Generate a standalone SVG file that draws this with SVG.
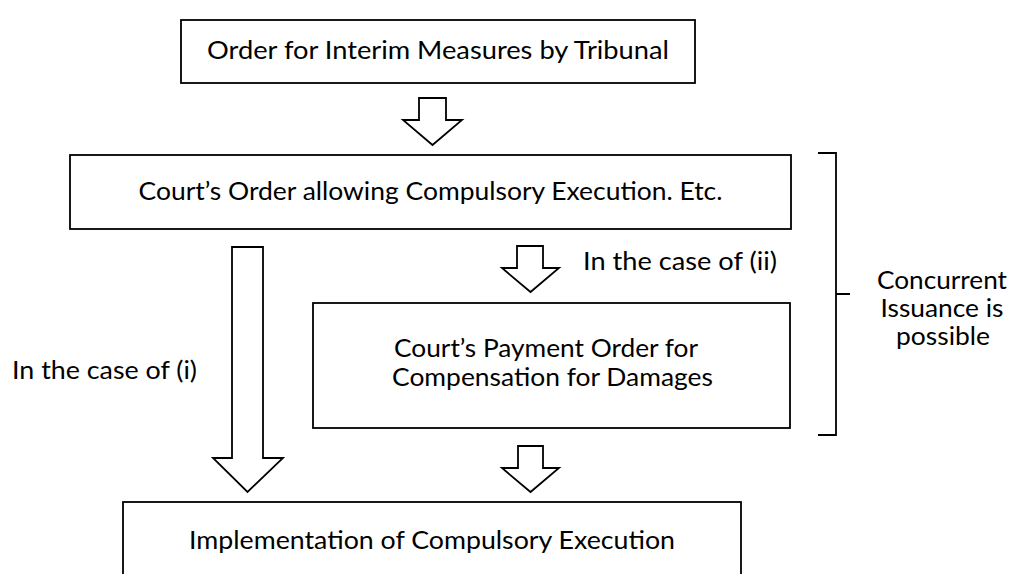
<svg xmlns="http://www.w3.org/2000/svg" width="1013" height="574" viewBox="0 0 1013 574">
<style>
.box{fill:#fff;stroke:#000;stroke-width:1.8}
.arr{fill:#fff;stroke:#000;stroke-width:1.8;stroke-linejoin:miter}
.t{font-family:Lato,"Open Sans","Liberation Sans",sans-serif;font-size:24.5px;fill:#000}
.c{text-anchor:middle}
.br{fill:none;stroke:#000;stroke-width:1.8}
</style>
<rect width="1013" height="574" fill="#fff"/>
<g id="connectors">
<path class="arr" d="M419 98 H446 V120 H462 L432.5 145 L403 120 H419 Z"/>
<path class="arr" d="M232 247 H263 V458 H283 L247.5 492 L213 458 H232 Z"/>
<path class="arr" d="M517 246 H543 V268 H559 L530.5 292 L502 268 H517 Z"/>
<path class="arr" d="M518 446 H543 V468 H559 L530.5 492 L502 468 H518 Z"/>
<path class="br" d="M818 153 H836 V435 H818 M836 294 H850"/>
</g>
<g id="node-tribunal">
<rect class="box" x="181" y="20" width="514" height="63"/>
<text class="t c" x="438" y="59" textLength="462" lengthAdjust="spacingAndGlyphs">Order for Interim Measures by Tribunal</text>
</g>
<g id="node-court-order">
<rect class="box" x="70" y="155" width="721" height="74"/>
<text class="t c" x="430.5" y="200" textLength="584" lengthAdjust="spacingAndGlyphs">Court’s Order allowing Compulsory Execution. Etc.</text>
</g>
<g id="node-payment">
<rect class="box" x="313" y="303" width="477" height="125"/>
<text class="t c" x="546" y="357" textLength="304" lengthAdjust="spacingAndGlyphs">Court’s Payment Order for</text>
<text class="t c" x="552.5" y="386" textLength="321" lengthAdjust="spacingAndGlyphs">Compensation for Damages</text>
</g>
<g id="node-implementation">
<rect class="box" x="123" y="502" width="618" height="90"/>
<text class="t c" x="432" y="549" textLength="486" lengthAdjust="spacingAndGlyphs">Implementation of Compulsory Execution</text>
</g>
<g id="labels">
<text class="t" x="583" y="270" textLength="194" lengthAdjust="spacingAndGlyphs">In the case of (ii)</text>
<text class="t" x="12" y="379" textLength="185" lengthAdjust="spacingAndGlyphs">In the case of (i)</text>
<text class="t c" x="942" y="289" textLength="130" lengthAdjust="spacingAndGlyphs">Concurrent</text>
<text class="t c" x="942" y="317" textLength="123" lengthAdjust="spacingAndGlyphs">Issuance is</text>
<text class="t c" x="943" y="345" textLength="94" lengthAdjust="spacingAndGlyphs">possible</text>
</g>
</svg>
